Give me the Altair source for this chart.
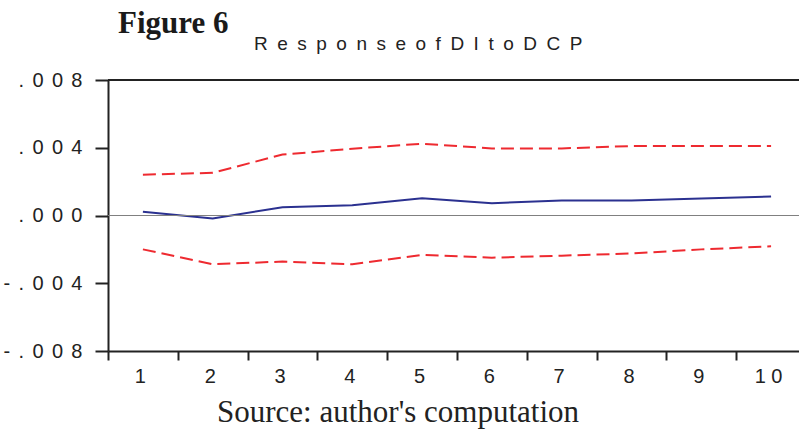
import altair as alt
import pandas as pd

# ---- data ----
steps = [1, 2, 3, 4, 5, 6, 7, 8, 9, 10]
response = [0.00022, -0.00018, 0.00049, 0.00061, 0.00102, 0.00073, 0.00088, 0.00088, 0.00100, 0.00112]
upper_band = [0.00241, 0.00252, 0.00360, 0.00394, 0.00424, 0.00396, 0.00396, 0.00410, 0.00410, 0.00410]
lower_band = [-0.00200, -0.00288, -0.00272, -0.00288, -0.00233, -0.00249, -0.00237, -0.00224, -0.00200, -0.00182]

y_tick_values = [0.008, 0.004, 0.0, -0.004, -0.008]
y_tick_labels = [".008", ".004", ".000", "-.004", "-.008"]
x_tick_values = steps
x_tick_labels = ["1", "2", "3", "4", "5", "6", "7", "8", "9", "1 0"]

fig_title = "Figure 6"
sub_title = "ResponseofDItoDCP"
source_note = "Source: author's computation"

W, H = 691, 271
UNIT = W / 9.9

SEP_Y = "\u2004\u200a"
SEP_T = "\u2002"


def label_expr(values, labels):
    expr = "''"
    for v, l in reversed(list(zip(values, labels))):
        expr = f"abs(datum.value - ({v})) < 1e-9 ? '{l}' : ({expr})"
    return expr


y_labels_spaced = [SEP_Y.join(list(s)) for s in y_tick_labels]

df = pd.DataFrame({
    "step": steps * 3,
    "value": response + upper_band + lower_band,
    "series": ["resp"] * 10 + ["upper"] * 10 + ["lower"] * 10,
})

x_enc = alt.X(
    "step:Q",
    scale=alt.Scale(domain=[0.5, 10.4], nice=False, zero=False),
    axis=alt.Axis(
        values=x_tick_values,
        labelExpr=label_expr(x_tick_values, x_tick_labels),
        title=None, grid=False,
        tickOffset=-UNIT / 2, labelOffset=UNIT / 2 - 3,
        tickSize=9, tickWidth=2, tickColor="#222",
        domainWidth=2, domainColor="#222",
        labelFont="Liberation Sans", labelFontSize=20, labelColor="#222",
        labelPadding=6, labelFlush=False,
    ),
)
y_enc = alt.Y(
    "value:Q",
    scale=alt.Scale(domain=[-0.008, 0.008], nice=False),
    axis=alt.Axis(
        values=y_tick_values,
        labelExpr=label_expr(y_tick_values, y_labels_spaced),
        title=None, grid=False,
        tickSize=13, tickWidth=2, tickColor="#222",
        domainWidth=2, domainColor="#222",
        labelFont="Liberation Sans", labelFontSize=20, labelColor="#222",
        labelPadding=13, labelFlush=False,
    ),
)

base = alt.Chart(df)

bands = base.transform_filter(alt.datum.series != "resp").mark_line(
    color="#EE2A30", strokeWidth=2, strokeDash=[13, 6]
).encode(x=x_enc, y=y_enc, detail="series:N")

resp_line = base.transform_filter(alt.datum.series == "resp").mark_line(
    color="#2B3190", strokeWidth=2
).encode(x=x_enc, y=y_enc)

zero_line = alt.Chart(pd.DataFrame({"value": [0.0]})).mark_rule(color="#808080", strokeWidth=1).encode(
    y=y_enc
)

top_border = alt.Chart(pd.DataFrame({"a": [0]})).mark_rule(color="#222", strokeWidth=2).encode(
    x=alt.value(0), x2=alt.value(W), y=alt.value(0)
)

t_fig = alt.Chart(pd.DataFrame({"t": [fig_title]})).mark_text(
    font="Liberation Serif", fontSize=31, fontWeight="bold", align="left", baseline="alphabetic", color="#1a1a1a"
).encode(text="t:N", x=alt.value(10), y=alt.value(-47))

t_sub = alt.Chart(pd.DataFrame({"t": [SEP_T.join(list(sub_title))]})).mark_text(
    font="Liberation Sans", fontSize=19, align="left", baseline="alphabetic", color="#222"
).encode(text="t:N", x=alt.value(146), y=alt.value(-30))

t_src = alt.Chart(pd.DataFrame({"t": [source_note]})).mark_text(
    font="Liberation Serif", fontSize=31, align="center", baseline="alphabetic", color="#222"
).encode(text="t:N", x=alt.value(290), y=alt.value(342))

chart = alt.layer(bands, resp_line, zero_line, top_border, t_fig, t_sub, t_src).properties(
    width=W, height=H,
    autosize=alt.AutoSizeParams(type="none"),
    padding={"left": 108, "top": 80, "right": 0, "bottom": 79},
    background="white",
).configure_view(stroke=None)

chart.save("out.html", embed_options={"renderer": "svg", "actions": False})
